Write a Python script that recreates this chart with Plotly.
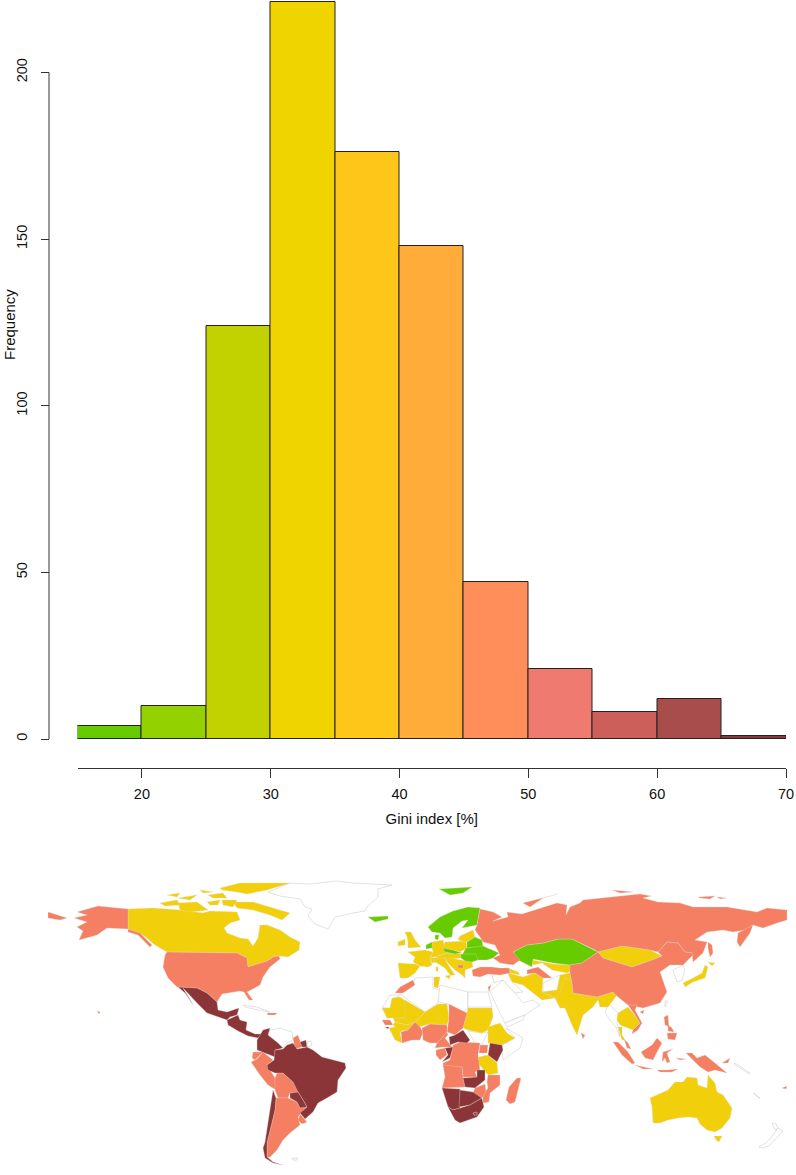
import plotly.graph_objects as go

W, H = 796, 1175

# === histogram data ===
bin_left = [15, 20, 25, 30, 35, 40, 45, 50, 55, 60, 65]
freq = [4, 10, 124, 221, 176, 148, 47, 21, 8, 12, 1]
bar_cols = ["#66CC00", "#94D100", "#C2D200", "#F0D400", "#FFC61A", "#FFAC3A",
            "#FF8E5A", "#EE7A70", "#CC5F5A", "#A84C4C", "#8B3838"]
x_ticks = [20, 30, 40, 50, 60, 70]
y_ticks = [0, 50, 100, 150, 200]

GREEN, YELLOW, SALMON, DARK, NODATA = "#66CC00", "#F2CF0B", "#F47F63", "#8B3538", "#FFFFFF"

# === map outlines (map units) ===
# north america
alaska = [(128,909),(98,906),(77,912),(87,915),(74,918),(87,922),(77,927),(83,931),(79,940),(97,935),(107,928),(128,929),(140,933),(152,945),(150,947),(138,935),(128,932)]
aleutians = [(48,912),(67,918),(60,920),(48,918)]
canada = [(128,909),(153,908),(180,910),(203,913),(210,911),(237,912),(240,920),(230,923),(224,928),(227,933),(240,938),(248,939),(253,946),(258,938),(260,925),(267,925),(280,930),(290,937),(300,942),(299,950),(288,957),(280,956),(273,957),(267,961),(248,967),(247,958),(237,953),(167,952),(155,945),(143,935),(128,929)]
baffin = [(233,902),(253,902),(273,908),(290,913),(282,920),(270,915),(253,910),(237,908)]
ellesmere = [(220,888),(240,883),(290,883),(267,890),(247,894),(237,892),(222,890)]
victoria = [(178,903),(197,902),(208,910),(190,912),(180,910)]
banks = [(160,903),(177,900),(180,905),(165,906)]
arctic_a = [(167,895),(180,893),(177,897)]
arctic_b = [(178,898),(197,895),(190,900)]
arctic_c = [(207,902),(220,900),(218,905),(210,905)]
arctic_d = [(208,895),(223,893),(227,898),(213,898)]
arctic_e = [(200,890),(213,892),(203,893)]
arctic_f = [(222,900),(237,900),(233,907),(223,905)]
usa = [(167,952),(237,953),(247,958),(248,967),(267,961),(273,957),(279,956),(280,959),(270,967),(263,977),(260,985),(247,992),(253,1000),(249,1000),(244,992),(240,991),(222,994),(217,1002),(207,993),(197,988),(177,987),(168,978),(163,967),(165,955)]
mexico = [(178,987),(197,988),(207,993),(217,1002),(218,1010),(227,1012),(233,1010),(239,1008),(237,1015),(230,1017),(227,1020),(207,1013),(197,1003),(188,993),(183,988),(192,1003),(193,1005),(185,993)]
central_am = [(227,1020),(238,1015),(240,1020),(247,1022),(246,1030),(255,1034),(262,1034),(258,1038),(248,1036),(238,1031),(228,1025)]
nicaragua = [(238,1022),(247,1022),(245,1030),(241,1029)]
cuba = [(243,1005),(257,1007),(270,1012),(258,1010),(245,1007)]
hispaniola = [(267,1013),(277,1013),(275,1015),(268,1015)]
hawaii = [(97,1011),(100,1012),(99,1014)]
greenland = [(268,892),(280,887),(290,883),(310,884),(337,881),(353,883),(392,885),(378,889),(378,897),(367,907),(365,911),(353,913),(335,917),(328,929),(315,924),(308,916),(312,909),(305,907),(300,899),(280,896)]

# south america
colombia = [(263,1030),(270,1028),(268,1035),(278,1043),(283,1048),(275,1050),(275,1057),(270,1055),(263,1052),(257,1050),(257,1040)]
venezuela = [(270,1030),(280,1028),(292,1032),(293,1040),(287,1043),(283,1048),(278,1043),(268,1035)]
guyana = [(293,1038),(298,1035),(302,1047),(295,1049)]
suriname = [(300,1042),(306,1040),(307,1047),(302,1047)]
fr_guiana = [(307,1042),(311,1041),(312,1045),(308,1047)]
ecuador = [(253,1052),(263,1052),(255,1060),(252,1058)]
peru = [(263,1052),(273,1060),(267,1065),(275,1078),(276,1090),(268,1085),(260,1075),(251,1062),(257,1059)]
brazil = [(275,1050),(283,1049),(287,1045),(293,1043),(297,1049),(307,1047),(313,1050),(322,1057),(345,1063),(346,1068),(338,1080),(337,1092),(327,1098),(318,1103),(313,1112),(305,1119),(300,1113),(307,1107),(303,1100),(298,1092),(293,1082),(283,1073),(275,1073),(268,1070),(267,1065),(274,1060)]
bolivia = [(275,1078),(277,1073),(283,1073),(293,1082),(299,1092),(290,1093),(288,1098),(278,1098),(275,1090)]
paraguay = [(290,1093),(298,1092),(303,1100),(307,1107),(300,1108),(297,1102),(290,1098)]
argentina = [(276,1098),(288,1098),(297,1102),(300,1108),(307,1106),(298,1117),(300,1125),(290,1133),(283,1140),(277,1150),(270,1157),(267,1158),(273,1162),(267,1157),(267,1143),(271,1127),(275,1110)]
chile = [(273,1090),(276,1098),(275,1110),(271,1127),(267,1143),(267,1157),(273,1162),(283,1165),(273,1163),(265,1158),(263,1148),(265,1142),(267,1130),(270,1110)]
uruguay = [(300,1114),(307,1122),(302,1124),(298,1120)]
falkland = [(292,1158),(298,1158),(297,1160),(293,1160)]

# europe
iceland = [(368,917),(388,916),(388,919),(375,922)]
svalbard = [(439,889),(472,887),(463,893),(450,895)]
scandinavia = [(428,927),(440,917),(453,911),(468,907),(480,908),(477,922),(477,925),(462,928),(468,920),(462,921),(453,928),(452,937),(445,938),(440,933),(432,932)]
denmark = [(435,935),(439,935),(438,940),(435,939)]
uk = [(405,932),(411,932),(415,940),(421,947),(408,948),(408,942),(407,937)]
ireland = [(398,942),(405,939),(405,945),(398,946)]
france = [(425,950),(433,952),(430,958),(432,965),(428,967),(420,966),(413,962),(415,957),(408,952)]
benelux = [(426,945),(432,942),(432,948),(426,949)]
germany = [(432,942),(443,940),(445,948),(447,953),(435,957),(430,958),(433,952),(432,948)]
poland = [(445,942),(466,941),(467,948),(460,952),(453,950),(443,948)]
czech_sk = [(443,948),(453,950),(462,953),(455,954),(445,952)]
baltics = [(460,936),(473,930),(475,937),(467,942),(458,940)]
belarus = [(467,942),(475,937),(482,940),(483,947),(467,948)]
ukraine = [(466,948),(483,946),(499,953),(493,958),(487,960),(478,960),(473,955),(462,955)]
romania = [(461,954),(476,954),(478,960),(472,962),(465,961),(461,958)]
austria_hu = [(435,957),(447,953),(461,954),(461,958),(452,959),(440,960)]
alps = [(430,958),(440,958),(445,958),(437,962),(432,963)]
italy = [(433,960),(445,958),(447,963),(455,975),(450,975),(445,968),(437,963)]
sicily = [(445,976),(451,975),(449,979)]
sardinia = [(436,967),(438,967),(438,971),(436,971)]
balkans = [(445,958),(455,959),(472,962),(473,967),(465,970),(465,978),(462,975),(455,970),(448,963)]
bulgaria = [(458,965),(463,965),(463,968),(458,968)]
iberia = [(398,963),(415,964),(420,966),(415,973),(408,978),(400,978),(399,970)]
turkey = [(472,970),(480,967),(492,967),(500,968),(509,968),(510,973),(500,975),(488,974),(480,977),(473,976)]

# russia and central asia
russia = [(480,909),(493,912),(502,917),(493,921),(508,917),(507,912),(522,914),(557,903),(567,905),(566,915),(570,907),(580,903),(583,900),(610,897),(640,894),(651,896),(643,898),(658,902),(680,903),(693,907),(727,907),(757,912),(767,908),(787,910),(787,920),(777,923),(763,928),(753,925),(745,930),(733,932),(723,930),(707,932),(695,940),(707,942),(703,953),(693,962),(692,953),(685,952),(678,943),(667,942),(658,952),(650,950),(622,946),(598,952),(595,950),(572,939),(558,939),(543,943),(527,945),(513,952),(520,960),(513,965),(500,963),(493,958),(500,955),(495,945),(483,942),(482,940),(475,930),(477,925)]
kamchatka = [(738,933),(753,925),(750,933),(740,947),(737,942)]
novaya = [(523,903),(558,894),(543,898),(530,907)]
siberia_a = [(612,890),(633,892),(620,893)]
siberia_b = [(698,897),(715,896),(710,899),(700,898)]
siberia_c = [(717,897),(726,898),(720,899)]
sakhalin = [(708,942),(712,945),(713,953),(710,957),(708,948)]
kazakhstan = [(513,952),(527,945),(543,943),(558,939),(572,939),(595,950),(598,952),(582,963),(570,965),(553,963),(533,959),(532,967),(518,960),(515,955)]
uzbekistan = [(532,960),(553,964),(570,965),(582,964),(573,970),(567,973),(562,972),(552,970),(542,963),(533,965)]
turkmenistan = [(527,970),(538,967),(552,978),(543,978),(535,973),(527,974)]
caucasus = [(508,968),(518,972),(520,975),(510,973)]
iran = [(508,973),(523,977),(535,973),(543,978),(542,992),(555,998),(542,1000),(532,992),(523,985),(512,982)]
afghanistan = [(543,983),(560,975),(563,978),(557,990),(543,992)]
pakistan = [(560,975),(570,973),(572,983),(560,993),(563,1000),(555,998),(542,992),(557,990)]
india = [(565,977),(572,983),(573,993),(597,997),(613,992),(617,995),(608,1007),(600,1007),(598,1000),(593,1007),(583,1015),(577,1035),(572,1025),(565,1008),(560,1008),(555,998),(560,993)]
sri_lanka = [(581,1033),(585,1035),(583,1039)]
china = [(598,952),(582,963),(570,965),(570,973),(572,983),(573,993),(597,997),(613,992),(618,997),(628,1005),(643,1008),(660,1003),(667,992),(662,977),(660,972),(670,965),(683,965),(693,955),(692,953),(685,952),(678,943),(667,942),(658,952),(662,956),(652,960),(632,967),(603,958)]
mongolia = [(598,952),(622,946),(650,950),(662,956),(652,960),(632,967),(603,958)]
korea = [(673,970),(683,965),(685,970),(682,980),(677,982),(675,975)]
hokkaido = [(708,962),(715,963),(712,966)]
honshu = [(705,965),(708,967),(705,978),(693,982),(685,987),(683,983),(693,978),(702,973)]
taiwan = [(665,1001),(668,1001),(665,1007)]
hainan = [(640,1012),(644,1010),(643,1014)]

# south east asia and oceania
myanmar = [(607,1007),(610,1005),(618,1013),(617,1023),(620,1037),(616,1027),(610,1020),(605,1012)]
thailand = [(618,1013),(628,1007),(637,1018),(640,1023),(633,1030),(625,1027),(620,1025),(617,1020)]
vietnam = [(628,1005),(637,1005),(635,1010),(642,1023),(638,1030),(632,1034),(633,1030),(640,1023),(635,1015)]
peninsula = [(618,1027),(622,1027),(622,1035),(625,1040),(622,1040)]
malaysia = [(624,1039),(628,1043),(631,1049),(627,1048)]
sumatra = [(613,1042),(618,1042),(628,1052),(635,1063),(632,1064),(622,1055)]
java = [(635,1065),(653,1069),(643,1069)]
borneo = [(641,1052),(652,1045),(657,1038),(662,1043),(657,1052),(653,1060),(645,1058)]
sulawesi = [(662,1062),(663,1052),(673,1049),(667,1053),(670,1062),(667,1063),(665,1058)]
sunda = [(657,1070),(667,1070),(678,1069),(672,1072),(660,1072)]
luzon = [(664,1017),(668,1015),(669,1027),(665,1025)]
mindanao = [(667,1033),(677,1033),(675,1040),(668,1039)]
visayas = [(668,1025),(672,1028),(674,1032),(668,1031)]
new_guinea = [(686,1053),(692,1053),(697,1058),(705,1055),(715,1063),(727,1073),(715,1070),(708,1072),(700,1067),(695,1062),(690,1058)]
seram = [(676,1058),(686,1059),(680,1060)]
new_britain = [(722,1063),(730,1058),(728,1063)]
fiji = [(782,1088),(787,1086),(786,1089)]
solomon = [(735,1063),(750,1073),(749,1074),(734,1064)]
vanuatu = [(754,1093),(760,1098),(759,1098),(754,1094)]
australia = [(650,1098),(668,1090),(675,1082),(683,1082),(687,1077),(697,1078),(698,1085),(707,1088),(708,1075),(715,1083),(717,1092),(723,1095),(732,1108),(730,1118),(722,1128),(715,1132),(707,1130),(700,1124),(697,1118),(688,1117),(678,1118),(668,1120),(660,1123),(653,1123),(652,1107)]
tasmania = [(714,1136),(722,1136),(719,1142),(716,1140)]
nz_south = [(759,1147),(767,1142),(773,1135),(778,1128),(783,1131),(777,1137),(770,1145),(763,1148)]
nz_north = [(772,1123),(776,1124),(778,1128),(775,1130)]

# africa
morocco = [(395,993),(400,987),(413,980),(415,985),(403,993)]
w_sahara = [(382,1008),(390,995),(400,995),(392,1000),(390,1008)]
algeria = [(400,994),(413,985),(415,978),(433,977),(433,988),(440,990),(438,1003),(425,1012)]
tunisia = [(434,977),(440,977),(438,988),(434,987)]
libya = [(440,985),(468,992),(468,1008),(463,1012),(448,1004),(438,1002)]
egypt = [(468,992),(488,992),(492,1007),(468,1007)]
mauritania = [(382,1008),(390,1008),(392,998),(400,997),(407,1002),(405,1018),(387,1018)]
mali = [(405,1000),(425,1012),(415,1022),(407,1025),(395,1022),(393,1018),(405,1018)]
niger = [(425,1012),(438,1004),(447,1004),(449,1018),(447,1025),(430,1024),(418,1027),(415,1022)]
chad = [(449,1004),(467,1013),(463,1028),(455,1035),(447,1032),(449,1018)]
sudan = [(468,1008),(492,1008),(493,1017),(488,1030),(482,1033),(468,1030),(463,1028)]
s_sudan = [(468,1031),(482,1033),(488,1032),(482,1044),(475,1043)]
ethiopia = [(488,1027),(500,1023),(507,1033),(515,1038),(502,1045),(488,1043)]
somalia = [(506,1028),(523,1038),(520,1048),(503,1060),(502,1045),(515,1038)]
senegal = [(382,1020),(390,1020),(393,1025),(385,1025)]
gambia = [(385,1027),(389,1027),(388,1029)]
guinea = [(389,1028),(395,1027),(407,1025),(400,1033),(402,1043),(395,1040)]
burkina = [(395,1022),(407,1025),(415,1022),(408,1030),(400,1031),(393,1025)]
ivory_ghana = [(401,1032),(408,1030),(415,1022),(420,1027),(423,1032),(420,1040),(412,1040),(402,1043)]
nigeria = [(422,1028),(430,1024),(447,1025),(447,1032),(442,1038),(437,1043),(430,1043),(423,1040)]
cameroon = [(447,1032),(448,1035),(445,1038),(452,1047),(443,1047),(435,1048),(437,1043),(442,1038)]
car = [(449,1037),(455,1035),(463,1030),(470,1040),(467,1043),(458,1042),(450,1045)]
congo = [(445,1048),(453,1047),(450,1058),(442,1062),(448,1055)]
gabon = [(436,1050),(445,1048),(447,1055),(440,1060),(436,1055)]
drc = [(453,1045),(460,1042),(480,1043),(478,1055),(480,1070),(475,1072),(477,1077),(463,1077),(462,1067),(443,1067),(443,1063),(450,1060)]
uganda = [(480,1045),(488,1045),(487,1053),(479,1053)]
kenya = [(490,1043),(502,1045),(503,1050),(497,1062),(488,1055)]
tanzania = [(479,1057),(488,1055),(497,1063),(498,1073),(488,1075),(482,1068),(477,1062)]
angola = [(443,1065),(462,1067),(463,1077),(465,1087),(442,1088),(445,1077)]
zambia = [(463,1078),(477,1077),(477,1070),(485,1070),(485,1080),(475,1088),(465,1087)]
mozambique = [(488,1075),(500,1075),(500,1085),(490,1093),(489,1102),(483,1103),(483,1095),(488,1088),(487,1082)]
zimbabwe = [(475,1088),(485,1084),(486,1092),(482,1098),(473,1093)]
namibia = [(442,1088),(460,1089),(460,1108),(453,1110),(448,1107),(443,1092)]
botswana = [(460,1090),(473,1092),(482,1098),(470,1105),(459,1107)]
south_africa = [(448,1107),(453,1110),(460,1108),(470,1105),(482,1098),(484,1107),(477,1117),(460,1123),(455,1120)]
lesotho = [(473,1113),(477,1112),(477,1115),(474,1115)]
madagascar = [(517,1078),(521,1078),(515,1102),(510,1104),(506,1100),(509,1087)]

# middle east
saudi = [(490,992),(503,980),(515,993),(523,1003),(533,1000),(540,1005),(525,1015),(505,1023),(500,1013)]
iraq_syria = [(492,975),(508,973),(512,982),(523,992),(515,993),(503,980),(494,983)]
israel = [(488,987),(491,985),(489,992)]
yemen = [(505,1023),(525,1015),(523,1020),(507,1027)]

map_groups = [
    (NODATA, [greenland, cuba, venezuela, fr_guiana, w_sahara, algeria, libya, egypt, s_sudan, somalia,
              saudi, iraq_syria, yemen, afghanistan, korea, taiwan, myanmar, nz_south, nz_north,
              solomon, vanuatu, falkland]),
    (YELLOW, [canada, baffin, ellesmere, victoria, banks, arctic_a, arctic_b, arctic_c, arctic_d,
              arctic_e, arctic_f, uk, ireland, france, germany, poland, baltics, austria_hu, alps, italy,
              sicily, sardinia, balkans, iberia, uzbekistan, caucasus, iran, pakistan, india, mongolia,
              hokkaido, honshu, thailand, peninsula, australia, tasmania, tunisia, mauritania, mali,
              niger, sudan, ethiopia, guinea, burkina, tanzania]),
    (GREEN, [iceland, svalbard, scandinavia, denmark, benelux, czech_sk, belarus, ukraine, romania, kazakhstan]),
    (SALMON, [alaska, aleutians, usa, nicaragua, hispaniola, hawaii, guyana, ecuador, peru, bolivia,
              argentina, uruguay, bulgaria, turkey, russia, kamchatka, novaya, siberia_a, siberia_b,
              siberia_c, sakhalin, turkmenistan, sri_lanka, china, hainan, vietnam, malaysia, sumatra,
              java, borneo, sulawesi, sunda, luzon, mindanao, visayas, new_guinea, seram, new_britain,
              fiji, morocco, chad, senegal, ivory_ghana, nigeria, cameroon, gabon, drc, uganda, angola,
              mozambique, zimbabwe, madagascar, israel]),
    (DARK, [mexico, central_am, colombia, suriname, brazil, paraguay, chile, gambia, car, congo, kenya,
            zambia, namibia, botswana, south_africa]),
]

fig = go.Figure()

# histogram
fig.add_trace(go.Bar(
    x=[b + 2.5 for b in bin_left], y=freq, width=5, marker=dict(color=bar_cols, line=dict(color="#222222", width=1)),
    xaxis="x", yaxis="y", showlegend=False,
))

# map
for col, group in map_groups:
    for poly in group:
        fig.add_trace(go.Scatter(
            x=[p[0] for p in poly] + [poly[0][0]], y=[p[1] for p in poly] + [poly[0][1]],
            mode="lines", fill="toself", fillcolor=col,
            line=dict(color="#CFCFCF" if col == NODATA else "rgba(225,215,205,0.55)", width=0.6),
            xaxis="x2", yaxis="y2", showlegend=False, hoverinfo="skip",
        ))
fig.add_trace(go.Scatter(
    x=[p[0] for p in lesotho] + [lesotho[0][0]], y=[p[1] for p in lesotho] + [lesotho[0][1]],
    mode="lines", line=dict(color="#D8C8C8", width=0.6), xaxis="x2", yaxis="y2", showlegend=False, hoverinfo="skip",
))

axis_font = dict(family="Liberation Sans, Helvetica, Arial", size=14.5, color="#111111")
title_font = dict(family="Liberation Sans, Helvetica, Arial", size=15, color="#111111")

fig.update_layout(
    width=W, height=H, autosize=False, margin=dict(l=0, r=0, t=0, b=0),
    paper_bgcolor="white", plot_bgcolor="rgba(0,0,0,0)", bargap=0,
    font=axis_font,
    xaxis=dict(
        domain=[77.5 / W, 786 / W], range=[15, 70], anchor="free", position=1 - 768 / H,
        tickvals=x_ticks, ticks="outside", ticklen=9, tickwidth=1, tickcolor="#333333",
        showline=True, linecolor="#333333", linewidth=1, showgrid=False, zeroline=False,
        ticklabelstandoff=4, ticklabeloverflow="allow", automargin=False,
        title=dict(text="Gini index [%]", standoff=12, font=title_font), tickfont=axis_font,
    ),
    # the range runs above the last tick so the tallest bar fits; the axis line itself is a shape up to 200
    yaxis=dict(
        domain=[1 - 739 / H, 1], range=[0, 739 / 3.333], anchor="free", position=49 / W,
        tickvals=y_ticks, ticks="outside", ticklen=8, tickwidth=1, tickcolor="#333333", tickangle=-90,
        ticklabelstandoff=8, ticklabeloverflow="allow", automargin=False,
        showline=False, showgrid=False, zeroline=False, tickfont=axis_font,
    ),
    xaxis2=dict(domain=[48 / W, 787 / W], range=[48, 787], visible=False, anchor="y2"),
    yaxis2=dict(domain=[1 - 1170 / H, 1 - 875 / H], range=[1170, 875], visible=False, anchor="x2"),
    shapes=[dict(type="line", xref="paper", yref="y", x0=49 / W, x1=49 / W, y0=y_ticks[0], y1=y_ticks[-1],
                 line=dict(color="#333333", width=1))],
    annotations=[dict(
        text="Frequency", textangle=-90, x=9 / W, y=1 - 325 / H, xref="paper", yref="paper",
        showarrow=False, font=title_font, xanchor="center", yanchor="middle",
    )],
)

# the page's default body margin would shift and crop the figure
fig.write_html("out.html", post_script="document.body.style.margin='0';", config={"displayModeBar": False})
